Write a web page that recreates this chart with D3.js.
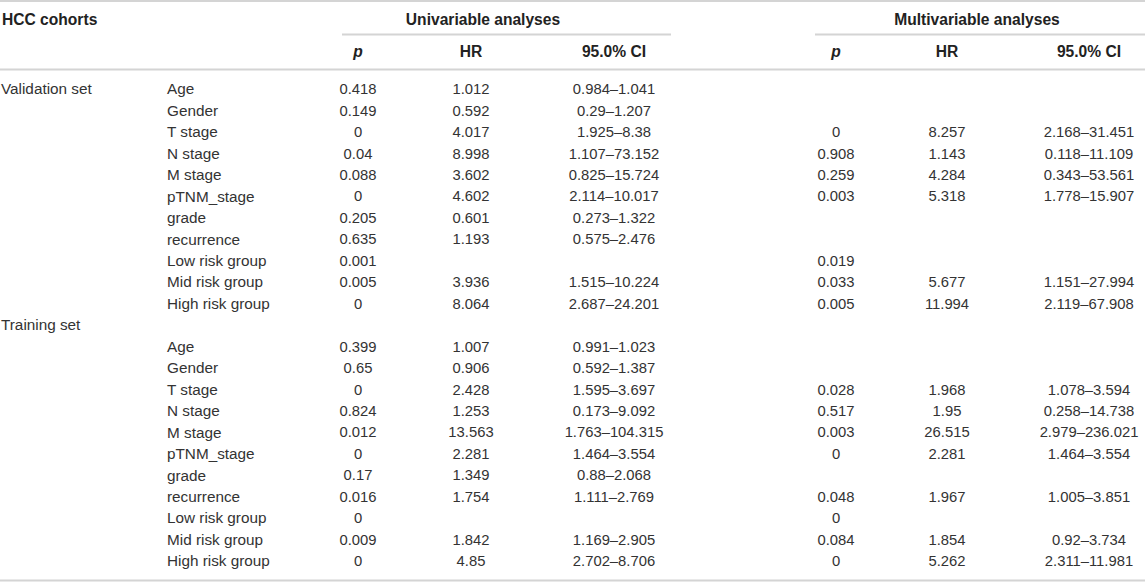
<!DOCTYPE html>
<html>
<head>
<meta charset="utf-8">
<script src="https://cdn.jsdelivr.net/npm/d3@7"></script>
<style>
  html, body { margin: 0; padding: 0; background: #fff; }
  svg text { font-family: "Liberation Sans", Arial, Helvetica, sans-serif; }
</style>
</head>
<body>
<svg id="tbl" width="1145" height="582"></svg>
<script>
// table content
var cohorts = ["Validation set", "Training set"];
var variables = ["Age", "Gender", "T stage", "N stage", "M stage", "pTNM_stage",
                 "grade", "recurrence", "Low risk group", "Mid risk group", "High risk group"];
var subHeaders = ["p", "HR", "95.0% CI"];

// validation set
var valUniP  = ["0.418", "0.149", "0", "0.04", "0.088", "0", "0.205", "0.635", "0.001", "0.005", "0"];
var valUniHR = ["1.012", "0.592", "4.017", "8.998", "3.602", "4.602", "0.601", "1.193", "", "3.936", "8.064"];
var valUniCI = ["0.984–1.041", "0.29–1.207", "1.925–8.38", "1.107–73.152", "0.825–15.724", "2.114–10.017",
                "0.273–1.322", "0.575–2.476", "", "1.515–10.224", "2.687–24.201"];
var valMulP  = ["", "", "0", "0.908", "0.259", "0.003", "", "", "0.019", "0.033", "0.005"];
var valMulHR = ["", "", "8.257", "1.143", "4.284", "5.318", "", "", "", "5.677", "11.994"];
var valMulCI = ["", "", "2.168–31.451", "0.118–11.109", "0.343–53.561", "1.778–15.907",
                "", "", "", "1.151–27.994", "2.119–67.908"];

// training set
var trnUniP  = ["0.399", "0.65", "0", "0.824", "0.012", "0", "0.17", "0.016", "0", "0.009", "0"];
var trnUniHR = ["1.007", "0.906", "2.428", "1.253", "13.563", "2.281", "1.349", "1.754", "", "1.842", "4.85"];
var trnUniCI = ["0.991–1.023", "0.592–1.387", "1.595–3.697", "0.173–9.092", "1.763–104.315", "1.464–3.554",
                "0.88–2.068", "1.111–2.769", "", "1.169–2.905", "2.702–8.706"];
var trnMulP  = ["", "", "0.028", "0.517", "0.003", "0", "", "0.048", "0", "0.084", "0"];
var trnMulHR = ["", "", "1.968", "1.95", "26.515", "2.281", "", "1.967", "", "1.854", "5.262"];
var trnMulCI = ["", "", "1.078–3.594", "0.258–14.738", "2.979–236.021", "1.464–3.554",
                "", "1.005–3.851", "", "0.92–3.734", "2.311–11.981"];

var W = 1145, H = 582;
var svg = d3.select("#tbl");

// build rows: validation rows share first line with cohort label, training set has its own line
var rows = [];
variables.forEach(function(v, i) {
    rows.push({cohort: i == 0 ? cohorts[0] : "", variable: v,
        cells: [valUniP[i], valUniHR[i], valUniCI[i], valMulP[i], valMulHR[i], valMulCI[i]]});
});
rows.push({cohort: cohorts[1], variable: "", cells: ["", "", "", "", "", ""]});
variables.forEach(function(v, i) {
    rows.push({cohort: "", variable: v,
        cells: [trnUniP[i], trnUniHR[i], trnUniCI[i], trnMulP[i], trnMulHR[i], trnMulCI[i]]});
});

var y = d3.scaleLinear().domain([0, rows.length - 1]).range([89, 561]);
var colX = d3.scaleOrdinal().domain(d3.range(6)).range([358, 471, 614, 836, 947, 1089]);

var lineColor = "#d4d4d4";
function hline(x1, x2, yy) {
    svg.append("line").attr("x1", x1).attr("x2", x2).attr("y1", yy).attr("y2", yy)
        .attr("stroke", lineColor).attr("stroke-width", 2);
}
hline(0, W, 1);
hline(342, 671, 34.5);
hline(815, W, 34.5);
hline(0, W, 69.5);
hline(0, W, 580.5);

// header
var head = svg.append("g").attr("font-weight", "bold").attr("font-size", "15.6px").attr("fill", "#222");
head.append("text").attr("x", 2).attr("y", 20).attr("dy", "0.35em").text("HCC cohorts");
head.append("text").attr("x", 483).attr("y", 20).attr("dy", "0.35em")
    .attr("text-anchor", "middle").text("Univariable analyses");
head.append("text").attr("x", 977).attr("y", 20).attr("dy", "0.35em")
    .attr("text-anchor", "middle").text("Multivariable analyses");
head.selectAll("text.sub").data(subHeaders.concat(subHeaders)).enter().append("text")
    .attr("class", "sub")
    .attr("x", function(d, i) { return colX(i); })
    .attr("y", 52).attr("dy", "0.35em")
    .attr("text-anchor", "middle")
    .attr("font-style", function(d) { return d == "p" ? "italic" : null; })
    .text(function(d) { return d; });

// body
var body = svg.append("g").attr("fill", "#333");
var row = body.selectAll("g.row").data(rows).enter().append("g")
    .attr("class", "row")
    .attr("transform", function(d, i) { return "translate(0," + y(i) + ")"; });
row.append("text").attr("x", 1).attr("dy", "0.35em").attr("font-size", "15.3px")
    .text(function(d) { return d.cohort; });
row.append("text").attr("x", 167).attr("dy", "0.35em").attr("font-size", "15.3px")
    .text(function(d) { return d.variable; });
row.selectAll("text.cell").data(function(d) { return d.cells; }).enter().append("text")
    .attr("class", "cell")
    .attr("x", function(d, i) { return colX(i); })
    .attr("dy", "0.35em")
    .attr("font-size", "14.8px")
    .attr("text-anchor", "middle")
    .text(function(d) { return d; });
</script>
</body>
</html>
